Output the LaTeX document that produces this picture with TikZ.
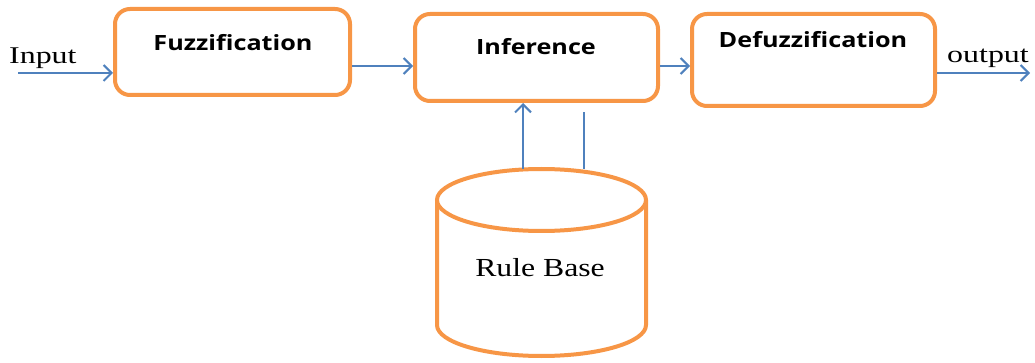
\documentclass[tikz,border=0pt]{standalone}
\usepackage{fontspec}
\setmainfont{Liberation Serif}
\newfontfamily\boxfont{Open Sans}
\usetikzlibrary{arrows.meta}
\definecolor{orng}{RGB}{247,150,70}
\definecolor{blu}{RGB}{79,129,189}
\newcommand{\hstretch}[2]{\scalebox{#1}[1]{#2}}
\begin{document}
\begin{tikzpicture}[x=1pt,y=-1pt,
  blk/.style={draw=orng, line width=4pt, rounded corners=15pt, fill=white, inner sep=0pt},
  lbl/.style={font=\boxfont\bfseries\fontsize{21}{24}\selectfont, inner sep=0pt, text=black},
  serif/.style={font=\fontsize{24}{28}\selectfont, inner sep=0pt, text=black},
  arr/.style={draw=blu, line width=2pt, -{Straight Barb[length=8pt,width=16pt,line width=2pt]}},
  ln/.style={draw=blu, line width=2pt}]
\useasboundingbox (0,0) rectangle (1035,363);
% boxes
\node[blk, minimum width=235pt, minimum height=86pt] (fz) at (232.5,52) {};
\node[blk, minimum width=243pt, minimum height=87pt] (inf) at (536.5,57.5) {};
\node[blk, minimum width=243pt, minimum height=92pt] (dfz) at (813.5,60) {};
\node[lbl] (fzt) at (233,43) {\hstretch{1.2}{Fuzzification}};
\node[lbl] (inft) at (536,47) {\hstretch{1.2}{Inference}};
\node[lbl] (dfzt) at (813,40) {\hstretch{1.2}{Defuzzification}};
% rule base cylinder
\draw[orng, line width=4pt, fill=white] (437,200) -- (437,325) arc[start angle=180, end angle=360, x radius=104.5pt, y radius=31pt] -- (646,200);
\draw[orng, line width=4pt, fill=white] (541.5,200) ellipse [x radius=104.5pt, y radius=31pt];
\node[inner sep=0pt, minimum width=209pt, minimum height=187pt] (rb) at (541.5,262.5) {};
\node[serif, font=\fontsize{26}{30}\selectfont] (rbt) at (540,268) {\hstretch{1.22}{Rule Base}};
% texts
\node[serif, anchor=base west] (int) at (9,64) {\hstretch{1.33}{Input}};
\node[serif, anchor=base west] (outt) at (947,63) {\hstretch{1.33}{output}};
% coordinates
\coordinate (inS) at (18,73);
\coordinate (outE) at (1030,73);
\coordinate (y66) at (0,66);
\coordinate (upx) at (523,0);
\coordinate (lnx) at (584,0);
\coordinate (lnTop) at (584,112);
% connectors
\draw[arr] (inS) -- (inS -| fz.west);
\draw[arr] (fz.east |- y66) -- (inf.west |- y66);
\draw[arr] (inf.east |- y66) -- (dfz.west |- y66);
\draw[arr] (dfz.east |- outE) -- (outE);
\draw[arr] (rb.north -| upx) -- (inf.south -| upx);
\draw[ln] (rb.north -| lnx) -- (lnTop);
\end{tikzpicture}
\end{document}
